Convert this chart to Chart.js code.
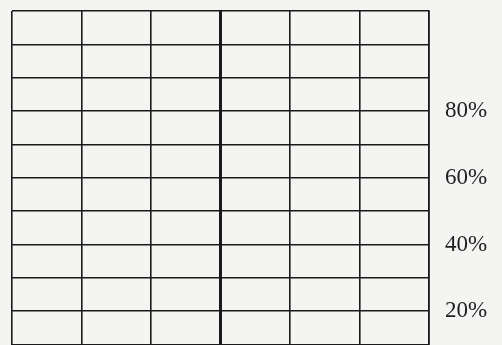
<!DOCTYPE html>
<html>
<head>
<meta charset="utf-8">
<script src="https://cdn.jsdelivr.net/npm/chart.js@4"></script>
<style>
  html, body { margin: 0; padding: 0; background: #f4f4f3; overflow: hidden; }
  #wrap { width: 502px; height: 345px; overflow: hidden; }
  canvas { display: block; }
</style>
</head>
<body>
<div id="wrap"><canvas id="grid" width="502" height="380"></canvas></div>
<script>
// grid of an empty percentage chart: 6 columns, 10% rows, labels on the right
const columnEdges = [0, 1, 2, 3, 4, 5, 6];
const percentMin = 0;
const percentMax = 110;
const percentStep = 10;
const labelledPercents = [20, 40, 60, 80];
const values = [];

const INK = "#1a1a1a";

new Chart(document.getElementById("grid"), {
  type: "line",
  data: {
    datasets: [{ data: values, borderColor: INK, pointRadius: 0 }]
  },
  options: {
    responsive: false,
    animation: false,
    devicePixelRatio: 1,
    layout: { padding: { top: 11, left: 12, right: 0, bottom: 2 } },
    plugins: { legend: { display: false }, tooltip: { enabled: false } },
    scales: {
      x: {
        type: "linear",
        min: columnEdges[0],
        max: columnEdges[columnEdges.length - 1],
        ticks: { stepSize: 1, display: false },
        grid: {
          drawTicks: false,
          color: INK,
          lineWidth: ctx => (ctx.tick && ctx.tick.value === 3 ? 3 : 1.6)
        },
        border: { display: true, color: INK, width: 1.6 }
      },
      y: {
        position: "right",
        min: percentMin,
        max: percentMax,
        afterFit: scale => {
          scale.width = 73;
          scale.paddingTop = 0;
          scale.paddingBottom = 0;
        },
        ticks: {
          stepSize: percentStep,
          padding: 16,
          color: "#1e1e1e",
          font: { family: "'Liberation Serif', 'Times New Roman', serif", size: 23 },
          callback: value => (labelledPercents.includes(value) ? value + "%" : "")
        },
        grid: { drawTicks: false, color: INK, lineWidth: 1.6 },
        border: { display: true, color: INK, width: 1.6 }
      }
    }
  }
});
</script>
</body>
</html>
